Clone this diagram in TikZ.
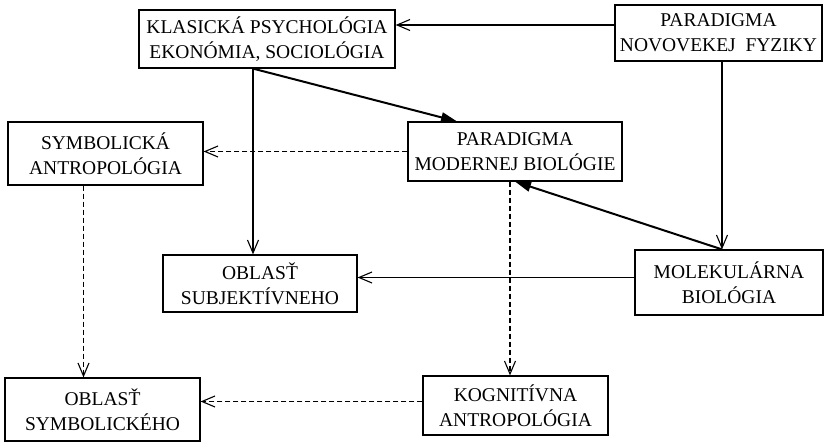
\documentclass[tikz,border=0pt]{standalone}
\usepackage{fontspec}
\setmainfont{Liberation Serif}
\usetikzlibrary{arrows.meta}
\begin{document}
\begin{tikzpicture}[x=1pt,y=-1pt,
  box/.style={draw,line width=1.2pt,rectangle,align=center,inner sep=0pt,font=\fontsize{19.5}{25}\selectfont},
  thin/.style={line width=1.1pt,-{Straight Barb[length=13pt,width=11pt,line width=1.1pt]}},
  thick/.style={line width=2pt,-{Triangle[length=16pt,width=10pt]}},
  dsh/.style={line width=1.1pt,dash pattern=on 5pt off 3pt,-{Straight Barb[length=13pt,width=11pt,line width=1.1pt]}}]
\useasboundingbox (0,0) rectangle (827,443);
\node[box,minimum width=256pt,minimum height=58pt] (KL) at (267,39) {KLASICKÁ PSYCHOLÓGIA\\EKONÓMIA, SOCIOLÓGIA};
\node[box,minimum width=207pt,minimum height=56pt] (NF) at (718.5,33) {PARADIGMA\\NOVOVEKEJ\ \ FYZIKY};
\node[box,minimum width=195pt,minimum height=63pt] (SA) at (105.5,153.5) {SYMBOLICKÁ\\ANTROPOLÓGIA};
\node[box,minimum width=214pt,minimum height=59pt] (PM) at (515,151.5) {PARADIGMA\\MODERNEJ BIOLÓGIE};
\node[box,minimum width=194pt,minimum height=57pt] (OS) at (260,283.5) {OBLASŤ\\SUBJEKTÍVNEHO};
\node[box,minimum width=188pt,minimum height=65pt] (MB) at (729,282.5) {MOLEKULÁRNA\\BIOLÓGIA};
\node[box,minimum width=195pt,minimum height=63pt] (OY) at (102.5,409.5) {OBLASŤ\\SYMBOLICKÉHO};
\node[box,minimum width=185pt,minimum height=59pt] (KA) at (515.5,405.5) {KOGNITÍVNA\\ANTROPOLÓGIA};
\coordinate (kls) at ([xshift=-14pt]KL.south);
\coordinate (nfs) at (722,61);
\coordinate (pms) at ([xshift=-5pt]PM.south);
\coordinate (sas) at ([xshift=-22pt]SA.south);
\coordinate (mbw) at ([yshift=5pt]MB.west);
\coordinate (kaw) at ([yshift=4pt]KA.west);
\coordinate (nfw) at ([yshift=8pt]NF.west);
\draw[thin] (nfw) -- (nfw -| KL.east);
\draw[thick] (kls) -- ([xshift=-58pt]PM.north);
\draw[thin] (kls) -- (kls |- OS.north);
\draw[dsh] (PM.west) -- (PM.west -| SA.east);
\draw[thin] (nfs) -- (nfs |- MB.north);
\draw[thick] (nfs |- MB.north) -- (PM.south);
\draw[thin] (mbw) -- (mbw -| OS.east);
\draw[dsh] (sas) -- (sas |- OY.north);
\draw[dsh] (pms) -- (pms |- KA.north);
\draw[dsh] (kaw) -- (kaw -| OY.east);
\end{tikzpicture}
\end{document}
